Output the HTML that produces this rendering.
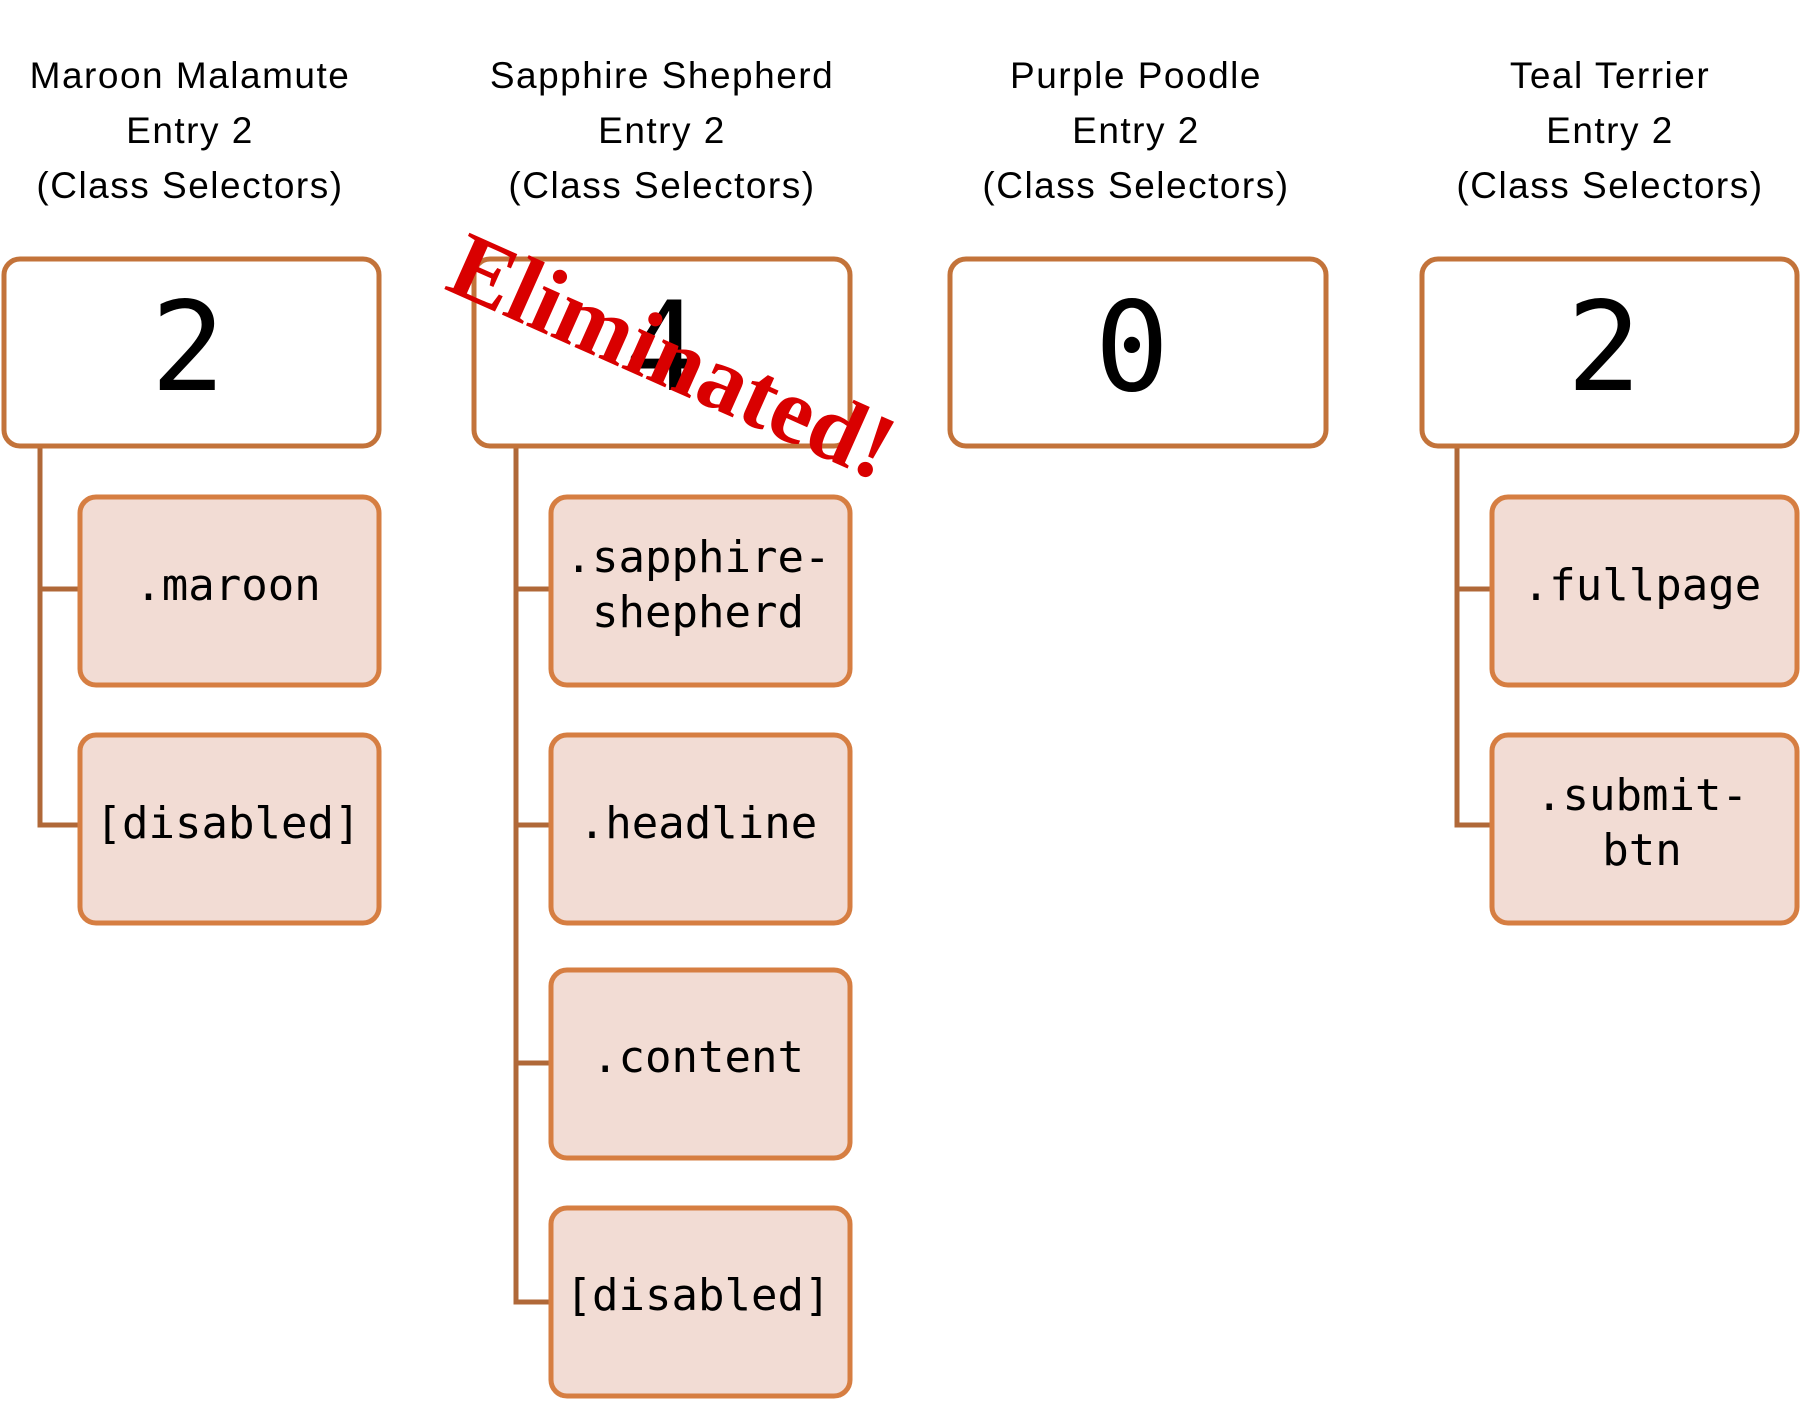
<!DOCTYPE html>
<html><head><meta charset="utf-8"><style>
html,body{margin:0;padding:0;background:#fff;}
svg{display:block;}
</style></head><body>
<svg width="1800" height="1411" viewBox="0 0 1800 1411" xmlns="http://www.w3.org/2000/svg">
<g font-family="Liberation Sans, sans-serif" font-size="37" fill="#000" text-anchor="middle" letter-spacing="1.5">
<text x="190" y="88">Maroon Malamute</text><text x="190" y="143">Entry 2</text><text x="190" y="198">(Class Selectors)</text>
<text x="662" y="88">Sapphire Shepherd</text><text x="662" y="143">Entry 2</text><text x="662" y="198">(Class Selectors)</text>
<text x="1136" y="88">Purple Poodle</text><text x="1136" y="143">Entry 2</text><text x="1136" y="198">(Class Selectors)</text>
<text x="1610" y="88">Teal Terrier</text><text x="1610" y="143">Entry 2</text><text x="1610" y="198">(Class Selectors)</text>
</g>
<g stroke="#B06838" stroke-width="5" fill="none">
<path d="M40 447 V825 H80 M40 589 H80"/>
<path d="M516 447 V1302 H551 M516 589 H551 M516 825 H551 M516 1063 H551"/>
<path d="M1457 447 V825 H1492 M1457 589 H1492"/>
</g>
<g stroke="#C3733A" stroke-width="5" fill="#fff">
<rect x="4" y="259" width="375" height="187" rx="16"/>
<rect x="474" y="259" width="376" height="187" rx="16"/>
<rect x="950" y="259" width="376" height="187" rx="16"/>
<rect x="1422" y="259" width="375" height="187" rx="16"/>
</g>
<g stroke="#D67E42" stroke-width="5" fill="#F2DCD4">
<rect x="80" y="497" width="299" height="188" rx="16"/>
<rect x="80" y="735" width="299" height="188" rx="16"/>
<rect x="551" y="497" width="299" height="188" rx="16"/>
<rect x="551" y="735" width="299" height="188" rx="16"/>
<rect x="551" y="970" width="299" height="188" rx="16"/>
<rect x="551" y="1208" width="299" height="188" rx="16"/>
<rect x="1492" y="497" width="305" height="188" rx="16"/>
<rect x="1492" y="735" width="305" height="188" rx="16"/>
</g>
<g font-family="DejaVu Sans Mono, Liberation Mono, monospace" font-size="124" text-anchor="middle" fill="#000">
<text x="188" y="390">2</text><text x="662" y="390">4</text><text x="1132" y="390">0</text><text x="1604" y="390">2</text>
</g>
<g font-family="DejaVu Sans Mono, Liberation Mono, monospace" font-size="44" text-anchor="middle" fill="#000">
<text x="228" y="600">.maroon</text>
<text x="228" y="838">[disabled]</text>
<text x="698" y="572">.sapphire-</text><text x="698" y="627">shepherd</text>
<text x="698" y="838">.headline</text>
<text x="698" y="1072">.content</text>
<text x="698" y="1310">[disabled]</text>
<text x="1642" y="600">.fullpage</text>
<text x="1642" y="810">.submit-</text><text x="1642" y="865">btn</text>
</g>
<text x="0" y="0" transform="translate(660,385) rotate(24)" font-family="Liberation Serif, serif" font-weight="bold" font-size="94" fill="#D90000" text-anchor="middle">Eliminated!</text>
</svg>
</body></html>
